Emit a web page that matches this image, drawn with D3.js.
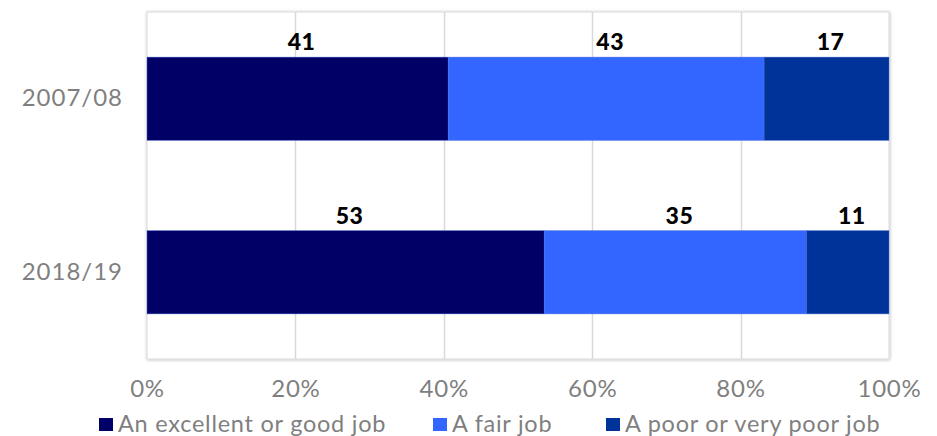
<!DOCTYPE html>
<html>
<head>
<meta charset="utf-8">
<script src="https://cdn.jsdelivr.net/npm/d3@7"></script>
<style>
  html, body { margin: 0; padding: 0; background: #fff; }
  svg { display: block; font-family: Lato, "Open Sans", sans-serif; }
</style>
</head>
<body>
<svg id="chart" width="937" height="436"></svg>
<script>
// Survey periods (rows) and response categories (stacked segments)
const periods = ["2007/08", "2018/19"];
const responses = ["An excellent or good job", "A fair job", "A poor or very poor job"];
const excellentGood = [41, 53];
const fair = [43, 35];
const poor = [17, 11];
const tickLabels = ["0%", "20%", "40%", "60%", "80%", "100%"];
const colors = ["#000066", "#3366FF", "#003399"];

const rows = periods.map((p, i) => ({
  period: p,
  [responses[0]]: excellentGood[i],
  [responses[1]]: fair[i],
  [responses[2]]: poor[i]
}));

const svg = d3.select("#chart");
const margin = { left: 147, right: 48, top: 12, bottom: 77 };
const W = 937, H = 436;
const plotW = W - margin.left - margin.right;
const plotH = H - margin.top - margin.bottom;

// 100% stacked layout
const stack = d3.stack().keys(responses).offset(d3.stackOffsetExpand);
const series = stack(rows);

const x = d3.scaleLinear().domain([0, 1]).range([margin.left, margin.left + plotW]);
const y = d3.scaleBand().domain(periods)
  .range([margin.top, margin.top + plotH])
  .paddingInner(0.52).paddingOuter(0.26);
const color = d3.scaleOrdinal().domain(responses).range(colors);

// Plot-area frame with soft shadow
const defs = svg.append("defs");
const f = defs.append("filter").attr("id", "shadow")
  .attr("x", "-5%").attr("y", "-5%").attr("width", "110%").attr("height", "110%");
f.append("feDropShadow").attr("dx", 0.5).attr("dy", 0.5)
  .attr("stdDeviation", 1.6).attr("flood-color", "#000").attr("flood-opacity", 0.28);

svg.append("rect")
  .attr("x", margin.left).attr("y", margin.top)
  .attr("width", plotW).attr("height", plotH)
  .attr("fill", "#fff").attr("stroke", "#d9d9d9").attr("stroke-width", 1)
  .attr("filter", "url(#shadow)");

// Vertical gridlines
const ticks = d3.range(0, 1.0001, 0.2);
svg.append("g").selectAll("line").data(ticks.slice(1, -1)).join("line")
  .attr("x1", d => Math.round(x(d)) + 0.5).attr("x2", d => Math.round(x(d)) + 0.5)
  .attr("y1", margin.top).attr("y2", margin.top + plotH)
  .attr("stroke", "#d9d9d9").attr("stroke-width", 1.5);

// X axis labels
const xAxis = d3.axisBottom(x).tickValues(ticks)
  .tickFormat((d, i) => tickLabels[i]).tickSize(0).tickPadding(0);
const gx = svg.append("g")
  .attr("transform", `translate(0,${margin.top + plotH + 21})`)
  .call(xAxis);
gx.select(".domain").remove();
gx.selectAll("text")
  .attr("fill", "#7f7f7f").attr("font-size", 24).attr("dy", "0.71em")
  .attr("letter-spacing", 0.8)
  .attr("font-family", "Lato, sans-serif");

// Y axis labels
const yAxis = d3.axisLeft(y).tickSize(0).tickPadding(24);
const gy = svg.append("g").attr("transform", `translate(${margin.left},0)`).call(yAxis);
gy.select(".domain").remove();
gy.selectAll("text")
  .attr("fill", "#7f7f7f").attr("font-size", 24)
  .attr("letter-spacing", 1)
  .attr("font-family", "Lato, sans-serif");

// Stacked bars
const layers = svg.append("g").selectAll("g").data(series).join("g")
  .attr("fill", d => color(d.key));

layers.selectAll("rect").data(d => d).join("rect")
  .attr("x", d => x(d[0]))
  .attr("width", d => x(d[1]) - x(d[0]))
  .attr("y", d => y(d.data.period))
  .attr("height", y.bandwidth())
  .attr("stroke", "#4a6fd8").attr("stroke-width", 0.6).attr("stroke-opacity", 0.7);

// Value labels above each segment
series.forEach(s => {
  svg.append("g").selectAll("text").data(s).join("text")
    .attr("x", d => (x(d[0]) + x(d[1])) / 2 + 4)
    .attr("y", d => y(d.data.period) - 7)
    .attr("text-anchor", "middle")
    .attr("font-size", 23).attr("font-weight", 900)
    .attr("letter-spacing", 0.5)
    .attr("fill", "#000")
    .text(d => d.data[s.key]);
});

// Legend
const legendX = [99, 433, 606];
const legend = svg.append("g").selectAll("g").data(responses).join("g")
  .attr("transform", (d, i) => `translate(${legendX[i]},418)`);
legend.append("rect").attr("width", 14).attr("height", 13).attr("fill", d => color(d));
legend.append("text")
  .attr("x", 19).attr("y", 13.5)
  .attr("font-size", 23.5).attr("fill", "#7f7f7f")
  .attr("letter-spacing", 0.75)
  .text(d => d);
</script>
</body>
</html>
